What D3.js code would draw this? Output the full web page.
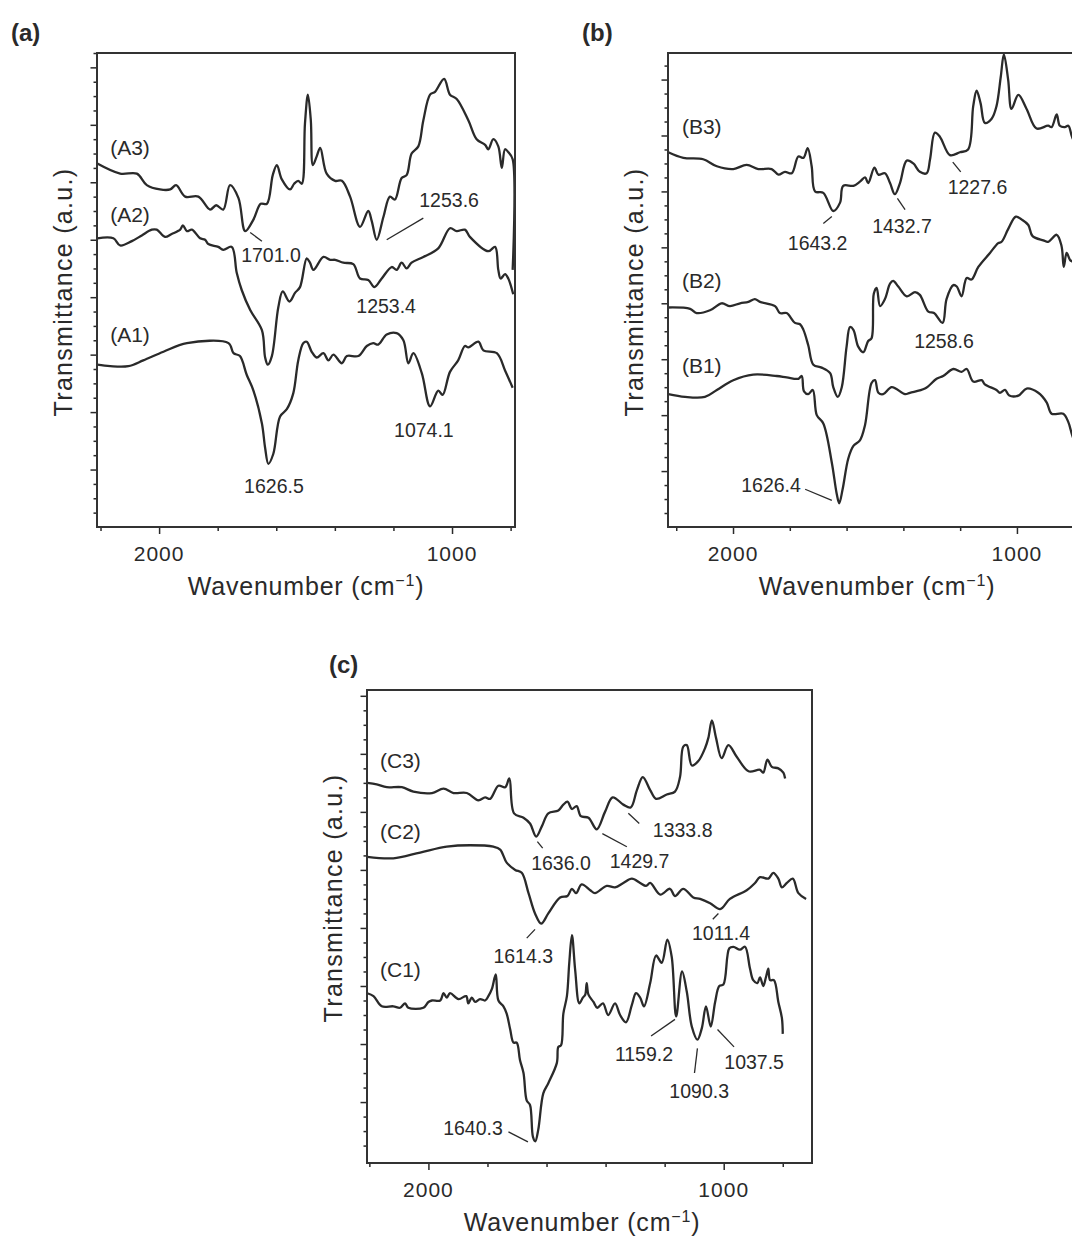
<!DOCTYPE html>
<html>
<head>
<meta charset="utf-8">
<script src="https://cdn.jsdelivr.net/npm/d3@7"></script>
<style>
  body { margin: 0; background: #fff; }
  svg { display: block; font-family: "Liberation Sans", Arial, sans-serif; }
</style>
</head>
<body>
<svg id="fig" width="1072" height="1237"></svg>
<script>
// FTIR spectra, values: [wavenumber (cm-1), transmittance (a.u.)]

const A3 = [[2211,25.3],[2133,24.6],[2076,24.6],[2042,23.8],[1997,23.5],[1962,23.5],[1942,23.8],[1911,23.0],[1866,23.0],[1826,22.1],[1805,22.4],[1781,22.1],[1758,23.8],[1729,22.9],[1706,20.6],[1678,21.4],[1653,22.5],[1632,22.5],[1612,24.5],[1598,25.2],[1581,24.2],[1553,23.5],[1539,23.9],[1525,24.1],[1513,23.9],[1502,28.1],[1492,30.1],[1482,28.3],[1475,25.2],[1462,25.8],[1450,26.4],[1428,24.6],[1399,24.1],[1376,24.1],[1348,23.0],[1314,20.9],[1286,22.0],[1274,21.3],[1257,20.0],[1234,21.6],[1212,23.0],[1195,22.8],[1172,24.3],[1155,24.5],[1138,26.0],[1115,26.5],[1098,28.3],[1075,30.1],[1058,30.3],[1027,31.2],[1007,30.1],[984,29.8],[944,28.3],[916,27.0],[887,26.6],[876,26.3],[859,27.0],[842,26.5],[830,25.0],[819,26.3],[808,26.1],[793,25.6],[793,17.9]];

const A2 = [[2211,20.1],[2156,20.1],[2133,19.6],[2093,19.9],[2059,20.3],[2025,20.7],[2008,20.7],[1980,20.2],[1957,20.4],[1928,20.7],[1919,21.0],[1905,20.6],[1888,20.7],[1860,20.1],[1843,20.0],[1832,19.7],[1798,19.5],[1781,19.3],[1752,19.5],[1735,17.7],[1718,16.5],[1689,15.1],[1649,13.7],[1638,11.8],[1629,11.3],[1615,11.9],[1593,15.3],[1578,16.4],[1555,15.7],[1536,16.3],[1519,16.7],[1496,18.7],[1485,18.4],[1473,17.9],[1439,18.8],[1416,18.6],[1399,18.6],[1371,18.4],[1337,18.3],[1314,17.3],[1286,17.2],[1265,16.7],[1240,17.3],[1206,18.1],[1189,17.9],[1172,18.4],[1155,18.0],[1138,18.4],[1098,18.8],[1047,19.4],[1007,20.8],[984,20.6],[956,20.7],[939,20.2],[876,19.2],[853,19.5],[842,17.9],[834,17.3],[819,17.6],[808,17.3],[791,16.2]];

const A1 = [[2211,11.3],[2167,11.2],[2105,11.2],[2054,11.6],[1985,12.2],[1905,12.8],[1763,12.8],[1746,12.1],[1724,11.9],[1701,10.6],[1678,9.5],[1649,7.2],[1638,5.5],[1627,4.4],[1610,5.1],[1587,7.7],[1564,8.2],[1542,9.3],[1525,11.6],[1508,12.8],[1496,12.9],[1479,12.2],[1462,11.8],[1439,12.1],[1422,11.6],[1405,12.0],[1376,11.4],[1359,11.9],[1320,11.9],[1291,12.6],[1269,12.8],[1252,12.7],[1223,13.4],[1189,13.5],[1166,13.0],[1149,11.4],[1132,12.1],[1103,10.7],[1075,8.4],[1047,9.5],[1032,9.2],[1007,10.8],[979,11.6],[956,12.6],[944,12.5],[910,12.9],[893,12.3],[847,12.1],[819,10.9],[793,9.7]];

const B3 = [[2228,26.8],[2175,26.4],[2105,26.3],[2057,25.8],[1999,25.6],[1952,25.9],[1911,25.6],[1864,25.6],[1840,25.2],[1817,25.4],[1793,25.3],[1770,26.5],[1752,26.4],[1737,27.1],[1723,25.8],[1711,24.0],[1682,23.9],[1647,22.6],[1623,23.2],[1612,24.4],[1576,24.4],[1553,24.7],[1535,25.0],[1524,24.6],[1502,25.7],[1488,25.2],[1465,25.3],[1447,24.6],[1430,23.8],[1412,24.6],[1388,26.2],[1365,26.0],[1342,25.4],[1318,25.3],[1306,26.3],[1289,28.2],[1271,27.9],[1236,26.6],[1201,26.8],[1172,27.0],[1154,30.1],[1142,31.2],[1128,30.3],[1113,28.9],[1089,29.2],[1072,30.1],[1057,32.2],[1046,33.8],[1031,32.0],[1019,29.9],[995,30.9],[966,29.9],[931,28.5],[890,28.7],[878,28.6],[860,29.5],[849,28.7],[831,28.6],[819,28.7],[806,27.9],[792,27.3]];

const B2 = [[2228,15.7],[2151,15.6],[2128,15.3],[2081,15.5],[2040,16.0],[2011,15.8],[1975,16.0],[1946,16.1],[1923,16.3],[1905,16.1],[1852,15.8],[1835,15.3],[1811,15.3],[1782,14.6],[1764,14.5],[1752,14.1],[1735,13.0],[1717,11.6],[1688,11.4],[1658,11.0],[1647,10.0],[1631,9.3],[1617,10.0],[1600,12.9],[1588,14.3],[1576,14.1],[1559,12.9],[1541,12.5],[1524,13.3],[1512,13.5],[1504,16.7],[1494,17.1],[1482,15.8],[1465,16.3],[1447,17.4],[1436,17.6],[1418,17.2],[1388,16.5],[1359,16.8],[1342,16.6],[1312,15.4],[1292,15.3],[1262,14.6],[1248,16.3],[1224,17.3],[1212,17.2],[1195,16.5],[1177,17.8],[1160,17.7],[1136,18.6],[1095,19.6],[1066,20.3],[1054,20.4],[1031,21.3],[1004,22.2],[984,22.0],[960,21.6],[945,20.8],[907,20.5],[890,20.4],[860,20.9],[843,20.1],[835,18.6],[825,19.6],[813,19.1],[806,19.0],[792,18.8]];

const B1 = [[2228,9.5],[2169,9.3],[2099,9.3],[2057,9.8],[1999,10.5],[1929,10.9],[1846,10.8],[1811,10.7],[1770,10.6],[1758,10.8],[1750,9.7],[1735,9.5],[1719,9.8],[1705,8.0],[1682,7.4],[1652,4.6],[1635,2.4],[1626,1.7],[1614,2.7],[1594,4.9],[1576,5.8],[1553,6.2],[1535,7.3],[1512,10.3],[1500,10.5],[1488,9.6],[1471,9.5],[1441,10.0],[1394,9.5],[1377,9.6],[1324,9.9],[1283,10.6],[1260,10.8],[1224,11.3],[1195,11.1],[1177,11.3],[1154,10.4],[1124,10.5],[1113,10.2],[1072,9.8],[1060,9.6],[1042,9.8],[1027,9.4],[995,9.4],[966,9.9],[925,9.6],[895,8.9],[878,8.1],[837,8.1],[819,7.5],[806,6.6],[792,5.8]];

const C3 = [[2207,26.0],[2175,25.9],[2141,25.7],[2090,25.7],[2051,25.4],[1988,25.3],[1949,25.6],[1915,25.3],[1870,25.3],[1831,24.8],[1808,25.0],[1791,24.9],[1763,25.8],[1740,25.7],[1726,26.3],[1710,23.9],[1678,23.6],[1656,23.2],[1635,22.3],[1616,23.0],[1594,23.9],[1560,24.1],[1543,24.5],[1529,24.7],[1514,24.2],[1498,24.4],[1484,23.7],[1458,23.6],[1430,22.8],[1402,24.0],[1376,25.0],[1340,24.5],[1315,24.3],[1294,25.5],[1274,26.4],[1249,25.5],[1229,24.9],[1193,25.2],[1165,25.4],[1148,26.4],[1137,28.5],[1125,28.6],[1108,27.2],[1086,27.5],[1063,28.4],[1052,29.1],[1040,30.3],[1026,29.1],[1007,27.7],[984,28.6],[956,27.8],[916,26.8],[877,26.9],[866,26.7],[852,27.6],[837,27.1],[815,27.0],[798,26.7],[792,26.3]];

const C2 = [[2207,20.9],[2119,20.8],[2028,21.2],[1938,21.6],[1859,21.7],[1780,21.6],[1757,21.4],[1735,20.5],[1706,20.0],[1684,19.8],[1661,18.4],[1639,17.0],[1618,16.3],[1594,17.0],[1554,18.1],[1529,18.2],[1514,18.7],[1500,18.4],[1481,19.0],[1452,18.6],[1436,18.4],[1396,18.9],[1368,18.8],[1340,19.1],[1311,19.4],[1283,19.1],[1263,18.9],[1249,19.1],[1215,18.3],[1182,18.7],[1165,18.2],[1137,18.7],[1103,18.1],[1080,18.0],[1046,17.7],[1012,17.3],[979,18.0],[922,18.6],[894,19.1],[877,19.5],[849,19.4],[832,19.8],[815,19.4],[803,18.8],[786,19.1],[766,19.4],[747,18.4],[721,18.0]];

const C1 = [[2207,11.5],[2186,11.3],[2158,10.6],[2119,10.6],[2096,10.5],[2079,10.8],[2068,10.5],[2017,10.5],[2000,10.9],[1988,11.0],[1960,11.0],[1949,11.5],[1938,11.2],[1927,11.5],[1898,11.1],[1872,11.3],[1865,10.8],[1853,11.2],[1842,10.9],[1825,11.1],[1808,11.0],[1797,11.3],[1785,11.8],[1772,12.8],[1763,11.0],[1746,10.6],[1735,10.1],[1723,9.0],[1712,8.1],[1701,8.1],[1690,6.9],[1678,6.0],[1667,4.1],[1656,3.8],[1646,1.6],[1638,1.3],[1628,2.1],[1611,4.6],[1594,5.3],[1565,6.7],[1560,7.8],[1551,7.9],[1543,10.1],[1531,11.3],[1523,13.6],[1514,15.5],[1503,13.1],[1489,10.8],[1477,11.2],[1469,11.4],[1464,12.2],[1458,11.4],[1441,10.9],[1428,10.5],[1409,10.8],[1391,10.0],[1368,10.8],[1351,10.0],[1331,9.5],[1311,10.7],[1297,11.5],[1283,11.2],[1270,10.6],[1249,12.2],[1229,14.1],[1210,13.6],[1191,15.2],[1176,14.0],[1161,9.9],[1141,13.0],[1125,11.6],[1108,9.2],[1089,8.3],[1074,9.1],[1060,10.6],[1044,9.2],[1029,10.9],[1015,12.0],[1001,12.1],[981,14.6],[967,14.7],[945,14.5],[928,14.7],[911,13.2],[900,12.4],[886,12.2],[877,12.6],[866,12.0],[857,12.6],[849,13.2],[843,12.4],[830,12.4],[815,10.9],[803,9.8],[800,8.7]];

// x tick labels (major) and the minor ticks between them
const xMajor = [2000, 1000];
const xMinor = [2200, 1800, 1600, 1400, 1200, 800];

// curve names: [text, wavenumber, transmittance] (left end of the text)
const namesA = [["(A3)", 2167, 25.9], ["(A2)", 2167, 21.2], ["(A1)", 2167, 12.9]];
const namesB = [["(B3)", 2180, 28.1], ["(B2)", 2180, 17.1], ["(B1)", 2180, 11.0]];
const namesC = [["(C3)", 2164, 27.0], ["(C2)", 2164, 22.1], ["(C1)", 2164, 12.6]];

// peak labels: [text, wavenumber, transmittance, leader line (wn1, t1, wn2, t2) or null]
const peaksA = [
  ["1701.0", 1618, 18.45, [1689, 20.5, 1649, 19.9]],
  ["1253.6", 1010, 22.3, [1223, 20.0, 1098, 21.5]],
  ["1253.4", 1225, 14.9, null],
  ["1074.1", 1096, 6.3, null],
  ["1626.5", 1608, 2.4, null]
];
const peaksB = [
  ["1643.2", 1702, 19.8, [1682, 21.7, 1652, 22.2]],
  ["1432.7", 1405, 21.05, [1421, 23.5, 1394, 22.7]],
  ["1227.6", 1139, 23.8, [1226, 26.1, 1198, 25.4]],
  ["1258.6", 1257, 12.8, null],
  ["1626.4", 1866, 2.5, [1746, 2.7, 1652, 1.9]]
];
const peaksC = [
  ["1636.0", 1551, 20.0, [1631, 21.95, 1613, 21.5]],
  ["1429.7", 1285, 20.1, [1411, 22.5, 1328, 21.6]],
  ["1333.8", 1139, 22.3, [1323, 23.9, 1286, 23.2]],
  ["1011.4", 1009, 15.2, [1037, 16.6, 1018, 17.0]],
  ["1614.3", 1679, 13.6, [1667, 15.3, 1639, 15.9]],
  ["1159.2", 1270, 6.8, [1246, 8.55, 1165, 9.7]],
  ["1090.3", 1083, 4.3, [1099, 6.0, 1089, 7.7]],
  ["1037.5", 897, 6.3, [1021, 9.0, 965, 7.8]],
  ["1640.3", 1849, 1.7, [1729, 1.95, 1663, 1.26]]
];

// layout of the three panels
const panels = [
  { tag: "(a)", tagX: 11,  tagY: 41,  x: 97,  y: 53,  w: 418, h: 474, wn: [2212, 785], t: [0, 33.0],
    series: [A1, A2, A3], names: namesA, peaks: peaksA, titleY: 292, titleX: 306 },
  { tag: "(b)", tagX: 582, tagY: 41,  x: 668, y: 53,  w: 408, h: 474, wn: [2229, 792], t: [0, 33.9],
    series: [B1, B2, B3], names: namesB, peaks: peaksB, titleY: 292, titleX: 877 },
  { tag: "(c)", tagX: 329, tagY: 673, x: 367, y: 690, w: 445, h: 473, wn: [2208, 701], t: [-0.2, 32.4],
    series: [C1, C2, C3], names: namesC, peaks: peaksC, titleY: 898, titleX: 582 }
];

const ink = "#2a2a2a";
const svg = d3.select("#fig");

panels.forEach(p => {
  const g = svg.append("g").attr("transform", `translate(${p.x},${p.y})`);

  const x = d3.scaleLinear().domain(p.wn).range([0, p.w]);
  const y = d3.scaleLinear().domain(p.t).range([p.h, 0]);

  // y ticks, no labels (arbitrary units)
  const yAll = d3.range(1, Math.floor(p.t[1]) + 1);
  g.append("g")
    .call(d3.axisLeft(y).tickValues(yAll.filter(v => v % 4 !== 0)).tickSize(3.5).tickFormat(""));
  g.append("g")
    .call(d3.axisLeft(y).tickValues(yAll.filter(v => v % 4 === 0)).tickSize(6.5).tickFormat(""));

  // x ticks
  g.append("g")
    .attr("transform", `translate(0,${p.h})`)
    .call(d3.axisBottom(x).tickValues(xMinor).tickSize(4).tickFormat(""));
  g.append("g")
    .attr("transform", `translate(0,${p.h})`)
    .call(d3.axisBottom(x).tickValues(xMajor).tickSize(7).tickFormat(""));

  g.selectAll(".domain").remove();
  g.selectAll(".tick line").attr("stroke", ink).attr("stroke-width", 1.5);

  g.selectAll("text.xlab")
    .data(xMajor)
    .join("text")
    .attr("class", "xlab")
    .attr("x", d => x(d))
    .attr("y", p.h + 34)
    .attr("text-anchor", "middle")
    .attr("font-size", 21)
    .attr("letter-spacing", 1)
    .attr("fill", ink)
    .text(d => d);

  // spectra
  const line = d3.line()
    .x(d => x(d[0]))
    .y(d => y(d[1]))
    .curve(d3.curveCatmullRom.alpha(0.5));

  g.selectAll("path.spec")
    .data(p.series)
    .join("path")
    .attr("class", "spec")
    .attr("d", line)
    .attr("fill", "none")
    .attr("stroke", ink)
    .attr("stroke-width", 2.3)
    .attr("stroke-linejoin", "round");

  // frame
  g.append("rect")
    .attr("width", p.w)
    .attr("height", p.h)
    .attr("fill", "none")
    .attr("stroke", "#333")
    .attr("stroke-width", 2);

  // curve names
  g.selectAll("text.name")
    .data(p.names)
    .join("text")
    .attr("class", "name")
    .attr("x", d => x(d[1]))
    .attr("y", d => y(d[2]))
    .attr("font-size", 21)
    .attr("fill", ink)
    .text(d => d[0]);

  // peak labels + leader lines
  g.selectAll("text.peak")
    .data(p.peaks)
    .join("text")
    .attr("class", "peak")
    .attr("x", d => x(d[1]))
    .attr("y", d => y(d[2]))
    .attr("text-anchor", "middle")
    .attr("font-size", 19.5)
    .attr("fill", ink)
    .text(d => d[0]);

  g.selectAll("line.lead")
    .data(p.peaks.filter(d => d[3]))
    .join("line")
    .attr("class", "lead")
    .attr("x1", d => x(d[3][0]))
    .attr("y1", d => y(d[3][1]))
    .attr("x2", d => x(d[3][2]))
    .attr("y2", d => y(d[3][3]))
    .attr("stroke", ink)
    .attr("stroke-width", 1.3);

  // axis titles
  const xt = svg.append("text")
    .attr("x", p.titleX)
    .attr("y", p.y + p.h + 68)
    .attr("text-anchor", "middle")
    .attr("font-size", 25)
    .attr("letter-spacing", 0.8)
    .attr("fill", ink);
  xt.append("tspan").text("Wavenumber (cm");
  xt.append("tspan").attr("font-size", 16).attr("dy", -9).text("\u22121");
  xt.append("tspan").attr("dy", 9).text(")");

  svg.append("text")
    .attr("transform", `translate(${p.x - 25},${p.titleY}) rotate(-90)`)
    .attr("text-anchor", "middle")
    .attr("font-size", 25)
    .attr("letter-spacing", 1.3)
    .attr("fill", ink)
    .text("Transmittance (a.u.)");

  // panel tag
  svg.append("text")
    .attr("x", p.tagX)
    .attr("y", p.tagY)
    .attr("font-size", 24)
    .attr("font-weight", "bold")
    .attr("fill", ink)
    .text(p.tag);
});
</script>
</body>
</html>
